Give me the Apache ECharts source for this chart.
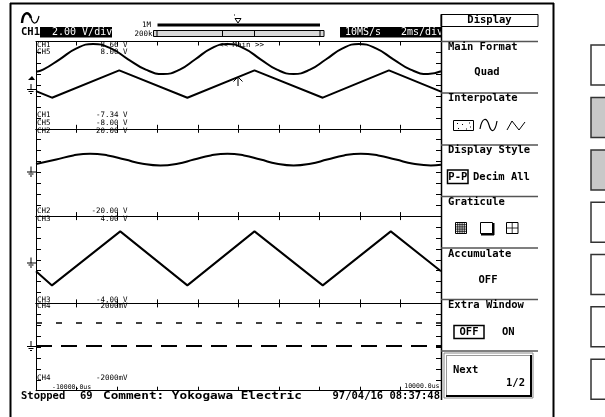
<!DOCTYPE html>
<html><head><meta charset="utf-8">
<script src="https://cdn.jsdelivr.net/npm/echarts@6.0.0/dist/echarts.min.js"></script>
<style>html,body{margin:0;padding:0;background:#fff}#c{width:605px;height:417px}</style>
</head><body><div id="c"></div><script>
// ---------- data ----------
const timeMin = -10000, timeMax = 10000, timeStep = 2000; // us
const ch1Time = [-10000,-9650,-8830,-8000,-7180,-6300,-5450,-4580,-3710,-2900,-2130,-1340,-545,270,1090,1900,2720,3530,4330,5140,5940,6790,7650,8500,9360,10000];
const ch1Volt = [3.1,3.5,5.4,7.4,8.2,7.4,5.4,3.5,2.7,3.5,5.4,7.4,8.2,7.4,5.4,3.5,2.7,3.5,5.4,7.4,8.2,7.4,5.4,3.5,2.7,3.2];
const ch5Time = [-10000,-9210,-5890,-2525,790,4160,7430,10000];
const ch5Volt = [-1.1,-2.3,2.7,-2.3,2.7,-2.3,2.7,-1.2];
const ch2Time = [-10000,-9000,-8160,-7330,-6460,-5600,-4730,-3860,-3010,-2200,-1370,-545,270,1090,1900,2720,3550,4380,5210,6040,6900,7770,8640,9500,10000];
const ch2Volt = [3.9,5.9,7.8,8.6,7.8,5.9,4.0,3.2,4.0,5.9,7.8,8.6,7.8,5.9,4.0,3.2,4.0,5.9,7.8,8.6,7.8,5.9,4.0,3.2,3.5];
const ch3Time = [-10000,-9210,-5840,-2525,790,4160,7520,10000];
const ch3Volt = [-1.05,-2.35,2.6,-2.35,2.6,-2.35,2.6,-1.05];
const ch4Time = [-10000,10000];
const ch4High = [1100,1100];
const ch4Low = [50,50];
// panel scales [min,max,step] : CH5(+CH1), CH2, CH3, CH4
const panelRanges = [[-8,8,2],[-20,20,5],[-4,4,1],[-2000,2000,500]];
const ch1Range = [-7.34,8.66];
const scaleLabels = [['CH1','8.66 V'],['CH5','8.00 V'],['CH1','-7.34 V'],['CH5','-8.00 V'],['CH2','20.00 V'],['CH2','-20.00 V'],['CH3','4.00 V'],['CH3','-4.00 V'],['CH4','2000mV'],['CH4','-2000mV']];
const timeLabels = ['-10000.0us','10000.0us'];
const menuTexts = ['Main Format','Quad','Interpolate','Display Style','Decim All','Graticule','Accumulate','OFF','Extra Window','ON'];

// ---------- layout ----------
const PL = 36, PW = 405, PT = 41.5, PH = 87.3;
const FONT = '"DejaVu Sans Mono", monospace';
const zip = (a,b) => a.map((v,i)=>[v,b[i]]);

const grids = [], xAxes = [], yAxes = [];
for (let i=0;i<4;i++){
  grids.push({left:PL, top:PT+i*PH, width:PW, height:PH});
  ['bottom','top'].forEach(pos => xAxes.push({gridIndex:i,type:'value',min:timeMin,max:timeMax,interval:timeStep,position:pos,
    axisLine:{show:true,onZero:false,lineStyle:{color:'#000',width:1}},axisTick:{show:true,inside:true,length:4,lineStyle:{color:'#000'}},
    axisLabel:{show:false},splitLine:{show:false}}));
  const r = panelRanges[i];
  ['left','right'].forEach(pos => yAxes.push({gridIndex:i,type:'value',min:r[0],max:r[1],interval:r[2],position:pos,
    axisLine:{show:true,onZero:false,lineStyle:{color:'#000',width:1}},axisTick:{show:true,inside:true,length:5,lineStyle:{color:'#000'}},
    axisLabel:{show:false},splitLine:{show:false}}));
  if (i===0) yAxes.push({gridIndex:0,type:'value',min:ch1Range[0],max:ch1Range[1],show:false,splitLine:{show:false}});
}
// yAxis indices: grid0 L0 R1 CH1 2 ; grid1 3,4 ; grid2 5,6 ; grid3 7,8
const ln = (w)=>({color:'#000',width:w});
const series = [
  {name:'CH1',type:'line',xAxisIndex:0,yAxisIndex:2,data:zip(ch1Time,ch1Volt),smooth:0.5,showSymbol:false,lineStyle:ln(2)},
  {name:'CH5',type:'line',xAxisIndex:0,yAxisIndex:0,data:zip(ch5Time,ch5Volt),showSymbol:false,lineStyle:ln(2)},
  {name:'CH2',type:'line',xAxisIndex:2,yAxisIndex:3,data:zip(ch2Time,ch2Volt),smooth:0.5,showSymbol:false,lineStyle:ln(2)},
  {name:'CH3',type:'line',xAxisIndex:4,yAxisIndex:5,data:zip(ch3Time,ch3Volt),showSymbol:false,lineStyle:ln(2)},
  {name:'CH4a',type:'line',xAxisIndex:6,yAxisIndex:7,data:zip(ch4Time,ch4High),showSymbol:false,lineStyle:{color:'#000',width:1.5,type:[6,14]}},
  {name:'CH4b',type:'line',xAxisIndex:6,yAxisIndex:7,data:zip(ch4Time,ch4Low),showSymbol:false,lineStyle:{color:'#000',width:2,type:[16,9]}}
];

// ---------- graphic helpers ----------
const G = [];
function T(s,x,y,size,o={}){G.push({type:'text',x:x,y:y,z:10,silent:true,scaleX:o.sx||1,style:{text:s,font:(o.bold?'bold ':'')+size+'px '+FONT,fill:o.fill||'#000',
  textAlign:o.align||'left',textVerticalAlign:'middle',align:o.align||'left',verticalAlign:'middle'}});}
function L(x1,y1,x2,y2,w,c,dash){G.push({type:'line',z:10,silent:true,shape:{x1,y1,x2,y2},style:{stroke:c||'#000',lineWidth:w||1,lineDash:dash||null}});}
function R(x,y,w,h,fill,stroke,lw){G.push({type:'rect',z:9,silent:true,shape:{x,y,width:w,height:h},style:{fill:fill||'none',stroke:stroke||null,lineWidth:lw||1}});}
function P(points,fill,stroke,lw,closed){G.push({type:closed===false?'polyline':'polygon',z:10,silent:true,shape:{points},style:{fill:fill||'none',stroke:stroke||null,lineWidth:lw||1}});}
function B(x1,y1,cpx1,cpy1,cpx2,cpy2,x2,y2,lw){G.push({type:'bezierCurve',z:10,silent:true,shape:{x1,y1,cpx1,cpy1,cpx2,cpy2,x2,y2},style:{stroke:'#000',lineWidth:lw,fill:'none'}});}

// outer frame
L(10.5,3,10.5,417,2); L(10,3.5,554,3.5,2); L(553.5,3,553.5,417,2);
// sine icon
B(22,23,23,11,29,11,31,18,2.5); B(31,18,33,25,37,25,39,16,1.2);
// CH1 header
T('CH1',21,32.5,10.5,{bold:true});
R(40,27,72,10.5,'#000');
T('2.00 V/div',52,32.5,10,{fill:'#fff'});
// memory bar
T('1M',151,25,7.5,{align:'right'});
L(157.5,25,320,25,3);
T('200k',152.5,34,7.5,{align:'right'});
R(153.5,30.5,170.5,6,'#d8d8d8','#000',1);
L(157,30.5,157,36.5,1); L(320,30.5,320,36.5,1);
L(222.5,30.5,222.5,36.5,1); L(254.5,30.5,254.5,36.5,1);
P([[235,18.5],[241,18.5],[238,23]],'#fff','#000',1);
R(234,14.5,1,1,'#000');
// right black header
R(340,27,101,10.5,'#000');
T('10MS/s',345,32.5,10,{fill:'#fff'});
T('2ms/div',401,32.5,10,{fill:'#fff'});
// Display box + menu
R(441,14.5,97,12,'#fff','#000',1);
T('Display',489.5,20.5,10.5,{bold:true,align:'center'});
L(441.5,14,441.5,400,1.5);
[41.5,93,145,196.5,248,299.5,351].forEach(y=>L(441,y,538,y,1.5,'#555'));
T(menuTexts[0],448,47.5,10.5,{bold:true});
T(menuTexts[1],487,72,10.5,{bold:true,align:'center'});
T(menuTexts[2],448,98.5,10.5,{bold:true});
T(menuTexts[3],448,150.5,10.5,{bold:true});
T(menuTexts[4],473,177,10.5,{bold:true});
T(menuTexts[5],448,202,10.5,{bold:true});
T(menuTexts[6],448,254.5,10.5,{bold:true});
T(menuTexts[7],488,280,10.5,{bold:true,align:'center'});
T(menuTexts[8],448,305.5,10.5,{bold:true});
T(menuTexts[9],502,332,10.5,{bold:true});
// interpolate icons
R(453.5,120.5,20,10,null,'#000',1);
[[457,123],[462,124],[469,122.5],[458,128],[466,128.5],[470,126.5]].forEach(p=>R(p[0],p[1],1,1,'#000'));
B(480,129,482,117,487,117,489,125,1.2); B(489,125,491,133,495,133,497,121,1.2);
P([[507,130],[512,121],[519,130],[525,122]],null,'#000',1,false);
// P-P box
R(447.5,170,20.5,13.5,null,'#000',1.5);
T('P-P',457.8,177,10.5,{bold:true,align:'center'});
// graticule icons
R(455.5,222.5,11,11,null,'#000',1);
for(let k=1;k<5;k++){L(455.5+k*2.2,222.5,455.5+k*2.2,233.5,0.8);L(455.5,222.5+k*2.2,466.5,222.5+k*2.2,0.8);}
R(480.5,222.5,12,11,null,'#000',1); L(481,234.5,494,234.5,2); L(493.5,223,493.5,235,2);
R(506.5,222.5,11.5,11,null,'#000',1); L(512.2,222.5,512.2,233.5,0.8); L(506.5,228,518,228,0.8);
// OFF box
R(454,325.5,30,13,null,'#000',1.5);
T('OFF',469,332,10.5,{bold:true,align:'center'});
// Next button
R(444,353,89,45,null,'#888',1);
L(446,355.5,531,355.5,1,'#999'); L(446.5,355,446.5,396,1,'#999');
L(531,355,531,397,2); L(446,396,532,396,2);
T('Next',453,370,10.5,{bold:true});
T('1/2',525,383,10.5,{bold:true,align:'right'});
// soft keys
const keyY=[45,97.5,150,202.3,254.5,306.8,359.2];
keyY.forEach((y,i)=>R(591,y,20,40,(i===1||i===2)?'#c8c8c8':'#fff','#333',1.5));
// panel scale labels
const labY=[45,52.5,115,123.5,131.5,211,219.5,300,306.5,378];
scaleLabels.forEach((p,i)=>{T(p[0],37,labY[i],7.5);T(p[1],127.5,labY[i],7.5,{align:'right'});});
T(timeLabels[0],52,387.5,6.5);
T(timeLabels[1],439.5,386,6.5,{align:'right'});
T('<< Main >>',241.5,45,7.5,{align:'center'});
// trigger arrow
L(238,77,238,86,1); P([[233.5,81.5],[238,77],[242.5,81.5]],null,'#000',1,false);
// ground and level markers
P([[28,80],[35,80],[32,76]],'#000');
[89,171.5,262.5,346].forEach(gy=>{L(31,gy-5,31,gy+1,1);L(27,gy+0.5,36,gy+0.5,1);L(28.5,gy+2.5,33.5,gy+2.5,1);L(30,gy+4.5,32,gy+4.5,1);});
// status line
T('Stopped',21,396,10.5,{bold:true});
T('69',80,396,10.5,{bold:true});
T('Comment: Yokogawa Electric',103,396,10.5,{bold:true,sx:1.21});
T('97/04/16 08:37:48',440,396,10.5,{bold:true,align:'right'});

const chart = echarts.init(document.getElementById('c'),null,{renderer:'canvas'});
chart.setOption({animation:false,backgroundColor:'#fff',grid:grids,xAxis:xAxes,yAxis:yAxes,series:series,graphic:{elements:G}});
</script></body></html>
